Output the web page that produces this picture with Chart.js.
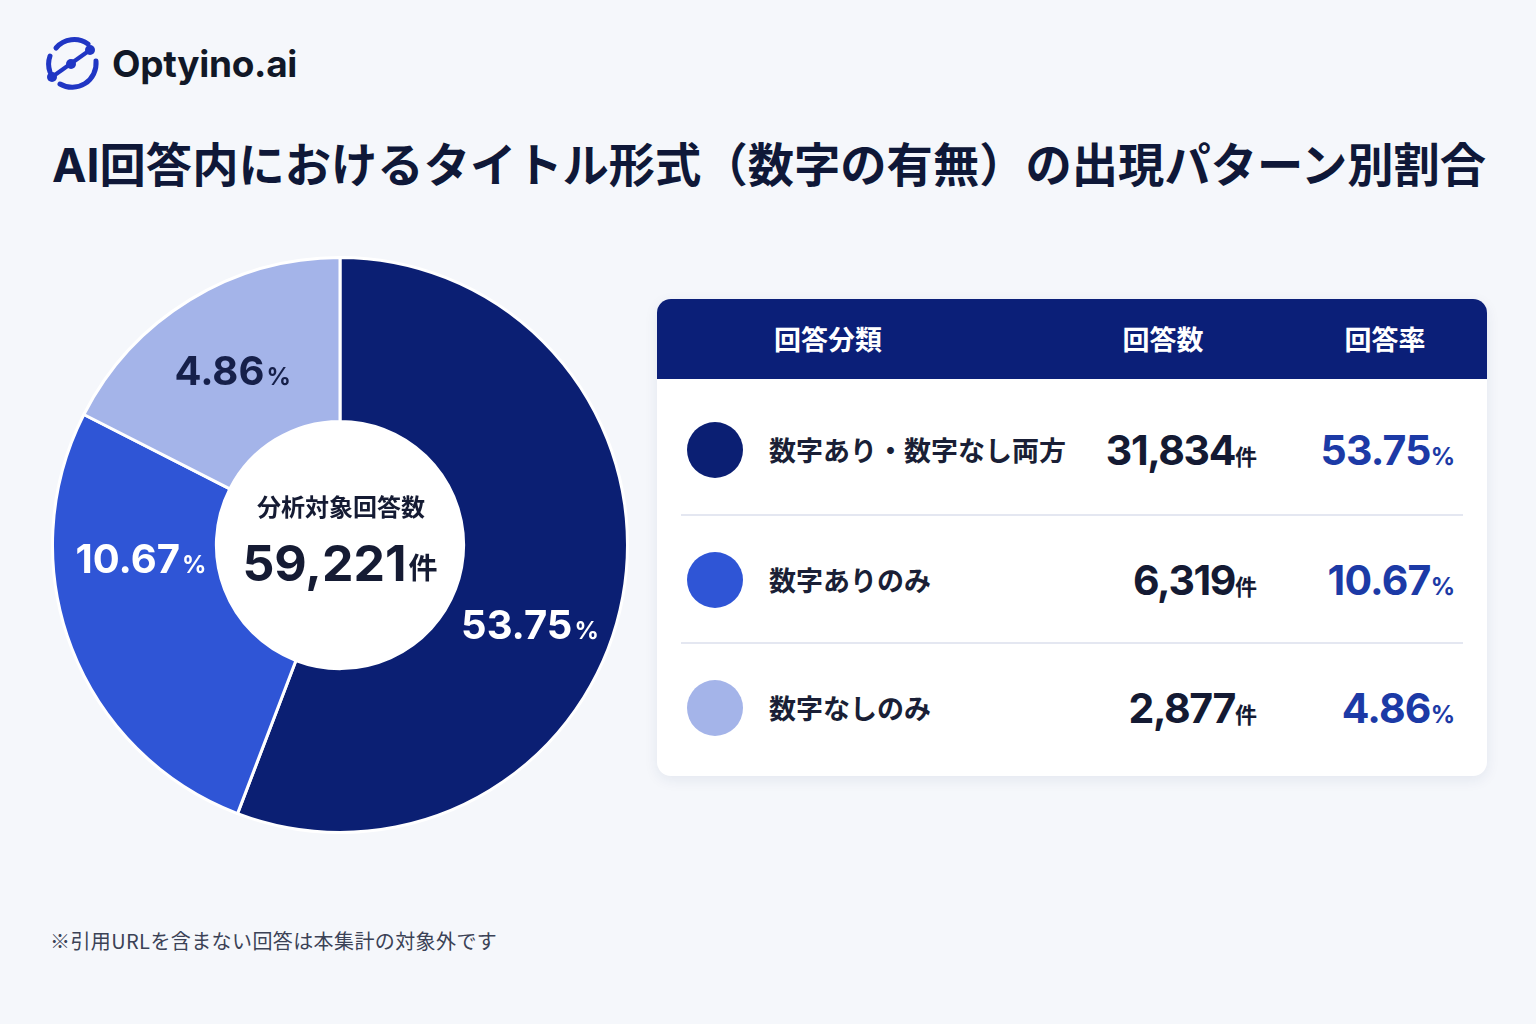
<!DOCTYPE html>
<html lang="ja">
<head>
<meta charset="utf-8">
<script src="https://cdn.jsdelivr.net/npm/chart.js@4.4.1/dist/chart.umd.min.js"></script>
<style>
  html, body { margin:0; padding:0; }
  body { width:1536px; height:1024px; background:#f5f7fb; position:relative; overflow:hidden;
         font-family:"Inter","Noto Sans CJK JP",sans-serif; color:#121a3a; }
  .logo { position:absolute; left:44px; top:34px; height:58px; display:flex; align-items:center; }
  .logo span { font-family:"Inter","Noto Sans",sans-serif; font-weight:700; font-size:37px; color:#111827; margin-left:12px; letter-spacing:-0.3px; }
  h1 { position:absolute; left:52px; top:128px; margin:0; font-size:46.3px; font-weight:700;
       font-family:"Inter","Noto Sans CJK JP",sans-serif; color:#0f1838; white-space:nowrap; letter-spacing:0; }
  #chartBox { position:absolute; left:51px; top:256px; width:578px; height:578px; }
  .card { position:absolute; left:657px; top:299px; width:830px; height:477px; background:#fff;
          border-radius:14px; box-shadow:0 4px 14px rgba(30,45,100,0.08); overflow:hidden; }
  .head { height:80px; background:#0b1f78; position:relative; color:#fff; font-family:"Noto Sans CJK JP",sans-serif;
          font-weight:700; font-size:27px; }
  .head div { position:absolute; top:0; line-height:80px; transform:translateX(-50%); }
  .row { position:absolute; left:24px; right:24px; height:128px; }
  .row.line { border-top:2px solid #e4e7f1; }
  .dot { position:absolute; left:6px; top:36px; width:56px; height:56px; border-radius:50%; }
  .lab { position:absolute; left:88px; top:0; line-height:128px; font-family:"Noto Sans CJK JP",sans-serif;
         font-weight:700; font-size:27px; color:#1a1f36; }
  .cnt { position:absolute; right:206px; top:0; line-height:128px; font-weight:700; font-size:41px; color:#141a33; letter-spacing:-1.4px; }
  .rate { position:absolute; right:8px; top:0; line-height:128px; font-weight:700; font-size:41px; color:#1c3aa6; letter-spacing:-0.8px; }
  .u { font-family:"Noto Sans CJK JP",sans-serif; font-size:22px; letter-spacing:0; }
  .p { font-size:24px; letter-spacing:0; }
  .note { position:absolute; left:50px; top:926px; font-family:"Noto Sans CJK JP",sans-serif; font-size:20px; letter-spacing:0.4px; color:#3b4256; }
</style>
</head>
<body>
<div class="logo">
  <svg width="56" height="58" viewBox="0 0 56 58">
    <path d="M 12 14 A 24 24 0 0 1 44 10" fill="none" stroke="#2036c4" stroke-width="5" stroke-linecap="round"/>
    <path d="M 52 27 A 24 24 0 0 1 16 50" fill="none" stroke="#2036c4" stroke-width="5" stroke-linecap="round"/>
    <path d="M 6 38 A 24 24 0 0 1 6 22" fill="none" stroke="#2036c4" stroke-width="5" stroke-linecap="round"/>
    <line x1="8" y1="43" x2="46" y2="16" stroke="#2036c4" stroke-width="4"/>
    <circle cx="8" cy="43" r="5" fill="#2036c4"/>
    <circle cx="27" cy="30" r="5" fill="#2036c4"/>
    <circle cx="46" cy="16" r="5" fill="#2036c4"/>
  </svg>
  <span>Optyino.ai</span>
</div>
<h1>AI回答内におけるタイトル形式（数字の有無）の出現パターン別割合</h1>

<div id="chartBox"><canvas id="donut"></canvas></div>

<div class="card" id="card">
  <div class="head">
    <div style="left:171px">回答分類</div>
    <div style="left:506px">回答数</div>
    <div style="left:728px">回答率</div>
  </div>
</div>

<div class="note">※引用URLを含まない回答は本集計の対象外です</div>

<script>
// data
const categories = ["数字あり・数字なし両方", "数字ありのみ", "数字なしのみ"]
const counts = [31834, 6319, 2877]
const rates = [53.75, 10.67, 4.86]
// share of the ring each slice takes in the picture
const arcShare = [55.8, 26.7, 17.5]
const totalCount = 59221
const centerTitle = "分析対象回答数"

const colors = ["#0b1f73", "#2f55d6", "#a4b4e9"]
const labelColors = ["#ffffff", "#ffffff", "#16204a"]
// where along each arc the % label sits (0 = start, 1 = end)
const labelPos = [0.56, 0.68, 0.5]

/* build table rows */
const card = document.getElementById('card')
for (let i = 0; i < categories.length; i++) {
  const row = document.createElement('div')
  row.className = 'row' + (i > 0 ? ' line' : '')
  row.style.top = (80 + 7 + i * 128) + 'px'
  row.innerHTML =
    '<div class="dot" style="background:' + colors[i] + '"></div>' +
    '<div class="lab">' + categories[i] + '</div>' +
    '<div class="cnt">' + counts[i].toLocaleString('en-US') + '<span class="u">件</span></div>' +
    '<div class="rate">' + rates[i].toFixed(2) + '<span class="p">%</span></div>'
  card.appendChild(row)
}

/* labels + white hole + center text */
const donutText = {
  id: 'donutText',
  afterDatasetsDraw(chart) {
    const ctx = chart.ctx
    const arcs = chart.getDatasetMeta(0).data
    const a0 = arcs[0]
    ctx.save()
    ctx.beginPath()
    ctx.arc(a0.x, a0.y, a0.innerRadius - 1, 0, Math.PI * 2)
    ctx.fillStyle = '#ffffff'
    ctx.fill()

    arcs.forEach((arc, i) => {
      const ang = arc.startAngle + (arc.endAngle - arc.startAngle) * labelPos[i]
      const r = (arc.innerRadius + arc.outerRadius) / 2 - (i == 1 ? 6 : 0)
      const x = arc.x + Math.cos(ang) * r
      const y = arc.y + Math.sin(ang) * r
      const num = rates[i].toFixed(2)
      ctx.font = '700 40px Inter'
      const w1 = ctx.measureText(num).width
      ctx.font = '700 24px Inter'
      const w2 = ctx.measureText('%').width
      const left = x - (w1 + w2 + 2) / 2
      ctx.fillStyle = labelColors[i]
      ctx.textBaseline = 'alphabetic'
      ctx.textAlign = 'left'
      ctx.font = '700 40px Inter'
      ctx.fillText(num, left, y + 15)
      ctx.font = '700 24px Inter'
      ctx.fillText('%', left + w1 + 2, y + 15)
    })

    ctx.fillStyle = '#151b33'
    ctx.textAlign = 'center'
    ctx.font = '700 24px "Noto Sans CJK JP"'
    ctx.fillText(centerTitle, a0.x + 1, a0.y - 29)
    const big = totalCount.toLocaleString('en-US')
    ctx.font = '700 50px Inter'
    const bw = ctx.measureText(big).width
    ctx.font = '700 29px "Noto Sans CJK JP"'
    const uw = ctx.measureText('件').width
    const bl = a0.x - (bw + uw + 2) / 2
    ctx.textAlign = 'left'
    ctx.font = '700 50px Inter'
    ctx.fillText(big, bl, a0.y + 36)
    ctx.font = '700 29px "Noto Sans CJK JP"'
    ctx.fillText('件', bl + bw + 2, a0.y + 34)
    ctx.restore()
  }
}

new Chart(document.getElementById('donut'), {
  type: 'doughnut',
  data: {
    labels: categories,
    datasets: [{
      data: arcShare,
      backgroundColor: colors,
      borderColor: '#ffffff',
      borderWidth: 3,
      hoverOffset: 0
    }]
  },
  options: {
    responsive: true,
    maintainAspectRatio: false,
    animation: false,
    cutout: '43%',
    layout: { padding: 0 },
    plugins: { legend: { display: false }, tooltip: { enabled: false } }
  },
  plugins: [donutText]
})
</script>
</body>
</html>
